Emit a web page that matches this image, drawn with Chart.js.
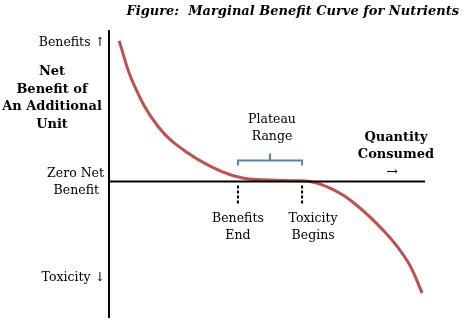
<!DOCTYPE html>
<html>
<head>
<meta charset="utf-8">
<script src="https://cdn.jsdelivr.net/npm/chart.js@4/dist/chart.umd.min.js"></script>
<style>
  html, body { margin: 0; padding: 0; background: #fff; }
  #wrap { position: relative; width: 474px; height: 332px; }
</style>
</head>
<body>
<div id="wrap"><canvas id="chart" width="474" height="332"></canvas></div>
<script>
// quantity consumed (arbitrary units) and net marginal benefit
const quantity = [3.2, 7.7, 15.6, 25.1, 35.7, 43.0, 50.9, 57.3, 63.6, 68.4, 76.3, 87.3, 94.6, 99.1];
const netBenefit = [140.8, 98.2, 54.8, 28.2, 9.8, 3, 1.5, 0.7, 0, -4.5, -18.5, -50.5, -80.5, -111.5];

// plateau range: benefits end / toxicity begins
const plateauStart = 40.8;
const plateauEnd = 61.1;

const titleText = 'Figure:  Marginal Benefit Curve for Nutrients';
const yLabel = ['Net', 'Benefit of', 'An Additional', 'Unit'];
const xLabel = ['Quantity', 'Consumed'];

const SERIF = '"DejaVu Serif", "Liberation Serif", serif';

const figureDecor = {
    id: 'figureDecor',
    afterDraw(chart) {
        const { ctx } = chart;
        const xs = chart.scales.x, ys = chart.scales.y;
        const x0 = xs.getPixelForValue(0), x1 = xs.getPixelForValue(100);
        const y0 = ys.getPixelForValue(0);
        const yTop = ys.top, yBot = ys.bottom;

        ctx.save();
        // axes
        ctx.strokeStyle = '#000';
        ctx.lineWidth = 2;
        ctx.beginPath();
        ctx.moveTo(x0, yTop); ctx.lineTo(x0, yBot);
        ctx.moveTo(x0, y0); ctx.lineTo(x1, y0);
        ctx.stroke();

        // dashed markers
        const pa = xs.getPixelForValue(plateauStart), pb = xs.getPixelForValue(plateauEnd);
        ctx.setLineDash([3, 2]);
        ctx.lineWidth = 2;
        ctx.beginPath();
        ctx.moveTo(pa, y0 + 4); ctx.lineTo(pa, y0 + 22);
        ctx.moveTo(pb, y0 + 4); ctx.lineTo(pb, y0 + 22);
        ctx.stroke();
        ctx.setLineDash([]);

        // bracket
        const by = y0 - 21;
        const mid = (pa + pb) / 2;
        ctx.strokeStyle = '#4f81bd';
        ctx.lineWidth = 2;
        ctx.beginPath();
        ctx.moveTo(pa, y0 - 16);
        ctx.lineTo(pa, by);
        ctx.lineTo(pb, by);
        ctx.lineTo(pb, y0 - 16);
        ctx.moveTo(mid, by); ctx.lineTo(mid, by - 7);
        ctx.stroke();

        // texts
        ctx.fillStyle = '#000';
        ctx.textBaseline = 'middle';
        ctx.font = 'bold italic 13px ' + SERIF;
        ctx.textAlign = 'right';
        ctx.fillText(titleText, 459, 12);

        ctx.font = '12.5px ' + SERIF;
        ctx.textAlign = 'right';
        ctx.fillText('Benefits \u2191', x0 - 4, 43);
        ctx.fillText('Zero Net', x0 - 5, 174);
        ctx.fillText('Benefit', x0 - 10, 191);
        ctx.fillText('Toxicity \u2193', x0 - 4, 278);

        ctx.textAlign = 'center';
        ctx.fillText('Plateau', mid + 2, 120);
        ctx.fillText('Range', mid + 2, 137);
        ctx.fillText('Benefits', pa, 219);
        ctx.fillText('End', pa, 236);
        ctx.fillText('Toxicity', pb + 11, 219);
        ctx.fillText('Begins', pb + 11, 236);
        ctx.font = '14px ' + SERIF;
        ctx.fillText('\u2192', 392, 172);

        ctx.font = 'bold 13px ' + SERIF;
        yLabel.forEach((t, i) => ctx.fillText(t, 52, 72 + i * 17.5));
        xLabel.forEach((t, i) => ctx.fillText(t, 396, 138 + i * 17));
        ctx.restore();
    }
};

new Chart(document.getElementById('chart'), {
    type: 'line',
    data: {
        datasets: [{
            data: quantity.map((q, i) => ({ x: q, y: netBenefit[i] })),
            borderColor: '#c0504d',
            borderWidth: 3,
            pointRadius: 0,
            tension: 0.4,
            fill: false
        }]
    },
    options: {
        responsive: false,
        animation: false,
        layout: { padding: { left: 109, right: 49, top: 30, bottom: 14 } },
        scales: {
            x: { type: 'linear', min: 0, max: 100, display: false },
            y: { min: -136.5, max: 151.5, display: false }
        },
        plugins: { legend: { display: false }, tooltip: { enabled: false } }
    },
    plugins: [figureDecor]
});
</script>
</body>
</html>
